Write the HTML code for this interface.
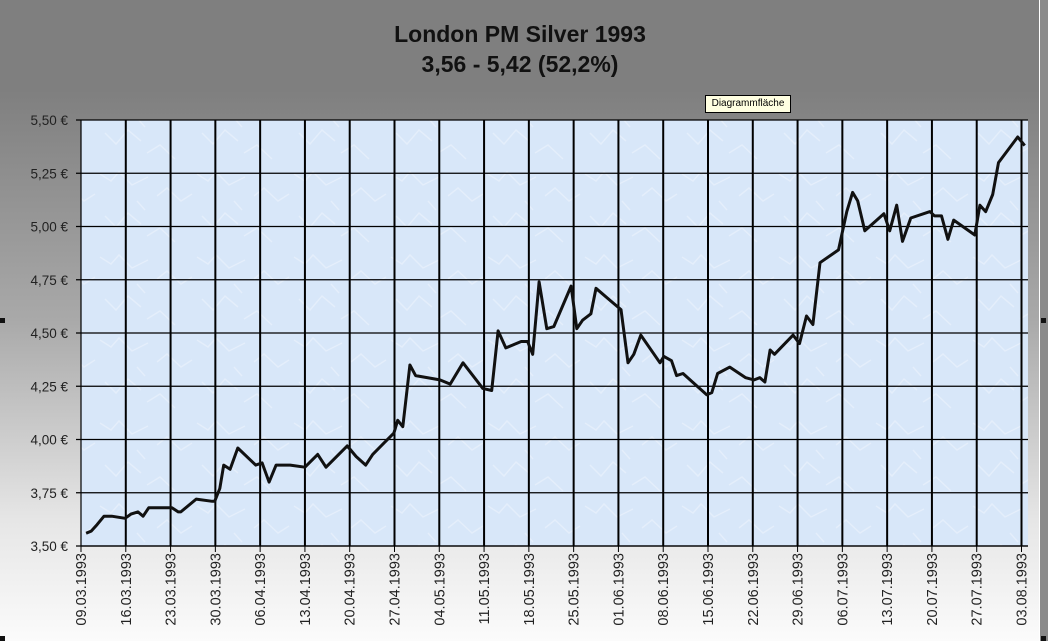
<!DOCTYPE html>
<html><head><meta charset="utf-8">
<style>
html,body{margin:0;padding:0;}
body{width:1048px;height:641px;overflow:hidden;position:relative;font-family:"Liberation Sans",sans-serif;}
#bg{position:absolute;left:0;top:0;width:1040px;height:641px;background:linear-gradient(#7f7f7f 0px,#7f7f7f 90px,#a9a9a9 320px,#e6e6e6 520px,#fbfbfb 641px);}
#edge{position:absolute;left:1039px;top:0;width:9px;height:641px;background:#8a8a8a;border-left:1px solid #fff;}
.title{position:absolute;left:0;width:1040px;text-align:center;font-weight:bold;font-size:23px;color:#111;}
#tip{position:absolute;left:705px;top:95px;width:84px;height:16px;background:#ffffe1;border:1px solid #000;font-size:10px;line-height:16px;text-align:center;color:#000;}
svg{position:absolute;left:0;top:0;}
</style></head><body>
<div id="bg"></div>
<div id="edge"></div>
<div class="title" style="top:21px">London PM Silver 1993</div>
<div class="title" style="top:51px">3,56 - 5,42 (52,2%)</div>
<div id="tip">Diagrammfläche</div>
<svg id="chart" width="1048" height="641"></svg>
<script>
const dayOffsets=[0.8,1.6,2.5,3.6,4.8,6.9,7.8,8.9,9.7,10.6,12.3,13.1,14.2,15.2,15.6,18.0,20.5,20.9,21.7,22.3,23.3,24.5,27.3,28.3,29.4,30.5,32.7,35.0,37.0,38.3,41.6,43.0,44.5,45.6,48.9,49.5,50.3,51.4,52.3,56.1,57.7,59.7,62.8,64.2,65.2,66.4,68.8,69.8,70.6,71.6,72.8,73.9,76.6,77.5,78.4,79.7,80.5,82.8,84.4,85.5,86.4,87.5,90.5,91.1,92.3,93.1,94.1,97.8,98.6,99.5,101.4,103.9,105.2,106.1,106.9,107.7,108.4,111.3,112.3,113.4,114.4,115.5,118.4,119.7,120.6,121.4,122.5,125.5,126.4,127.5,128.4,129.7,132.7,133.4,134.5,135.5,136.4,139.7,140.5,141.4,142.5,143.4,146.4,147.5];
const prices=[3.56,3.57,3.60,3.64,3.64,3.63,3.65,3.66,3.64,3.68,3.68,3.68,3.68,3.66,3.66,3.72,3.71,3.71,3.77,3.88,3.86,3.96,3.88,3.89,3.80,3.88,3.88,3.87,3.93,3.87,3.97,3.92,3.88,3.93,4.03,4.09,4.06,4.35,4.30,4.28,4.26,4.36,4.24,4.23,4.51,4.43,4.46,4.46,4.40,4.74,4.52,4.53,4.72,4.52,4.56,4.59,4.71,4.65,4.61,4.36,4.40,4.49,4.36,4.39,4.37,4.30,4.31,4.21,4.22,4.31,4.34,4.29,4.28,4.29,4.27,4.42,4.40,4.49,4.45,4.58,4.54,4.83,4.89,5.07,5.16,5.12,4.98,5.06,4.98,5.10,4.93,5.04,5.07,5.05,5.05,4.94,5.03,4.96,5.10,5.07,5.15,5.30,5.42,5.38];
const yTicks=[3.50,3.75,4.00,4.25,4.50,4.75,5.00,5.25,5.50];
const yTickLabels=["3,50 €","3,75 €","4,00 €","4,25 €","4,50 €","4,75 €","5,00 €","5,25 €","5,50 €"];
const xTickLabels=["09.03.1993","16.03.1993","23.03.1993","30.03.1993","06.04.1993","13.04.1993","20.04.1993","27.04.1993","04.05.1993","11.05.1993","18.05.1993","25.05.1993","01.06.1993","08.06.1993","15.06.1993","22.06.1993","29.06.1993","06.07.1993","13.07.1993","20.07.1993","27.07.1993","03.08.1993"];

const NS="http://www.w3.org/2000/svg";
const svg=document.getElementById('chart');
const L=81,R=1028,T=120,B=546;
const xScale=d=>L+d*(1021.5-L)/147;
const yScale=v=>B-(v-3.5)/2.0*(B-T);
function mk(tag,attrs){const e=document.createElementNS(NS,tag);for(const k in attrs)e.setAttribute(k,attrs[k]);svg.appendChild(e);return e;}

const defs=document.createElementNS(NS,'defs');
defs.innerHTML='<pattern id="tex" width="97" height="83" patternUnits="userSpaceOnUse"><rect width="97" height="83" fill="#d8e7f9"/><path d="M3 8 L14 15 L22 6 L35 19 L51 11 M60 30 L70 22 L84 35 L95 28 M8 50 L19 61 L31 47 L44 58 M50 70 L63 62 L78 76 M40 35 L48 44" stroke="#e4eefb" stroke-width="1.5" fill="none"/></pattern>';
svg.appendChild(defs);
const plot=mk('rect',{x:L,y:T,width:R-L,height:B-T,fill:'url(#tex)'});



yTicks.forEach((v,i)=>{
  const y=yScale(v);
  const g=mk('line',{x1:L-5,x2:R,y1:y,y2:y,stroke:'#000','stroke-width':1.2});
  
  
  const t=mk('text',{x:68,y:y+5,'text-anchor':'end','font-size':13.5,fill:'#222','font-family':'Liberation Sans, sans-serif'});
  t.textContent=yTickLabels[i];
  
  
});
xTickLabels.forEach((lab,i)=>{
  const x=xScale(i*7);
  if(i>0){
    const g=mk('line',{x1:x,x2:x,y1:T,y2:B,stroke:'#000','stroke-width':2});
    
    
  }
  const tk=mk('line',{x1:x,x2:x,y1:B,y2:B+6,stroke:'#000','stroke-width':1});
  
  
  const t=mk('text',{x:0,y:0,'text-anchor':'end','font-size':14.5,fill:'#222','font-family':'Liberation Sans, sans-serif',transform:`translate(${x+5},${B+7}) rotate(-90)`});
  t.textContent=lab;
  
  
});
const ax=mk('line',{x1:L,x2:L,y1:T,y2:B,stroke:'#000','stroke-width':1.2});


const ax2=mk('line',{x1:L,x2:R,y1:B,y2:B,stroke:'#000','stroke-width':1.2});



const pts=dayOffsets.map((d,i)=>xScale(d).toFixed(1)+','+yScale(prices[i]).toFixed(1)).join(' ');
const line=mk('polyline',{points:pts,fill:'none',stroke:'#111','stroke-width':3,'stroke-linejoin':'round'});



[[0,318],[1041,318],[1041,636],[0,636]].forEach(p=>{
  const h=mk('rect',{x:p[0],y:p[1],width:5,height:5,fill:'#111'});
  
  
});
</script>
</body></html>
